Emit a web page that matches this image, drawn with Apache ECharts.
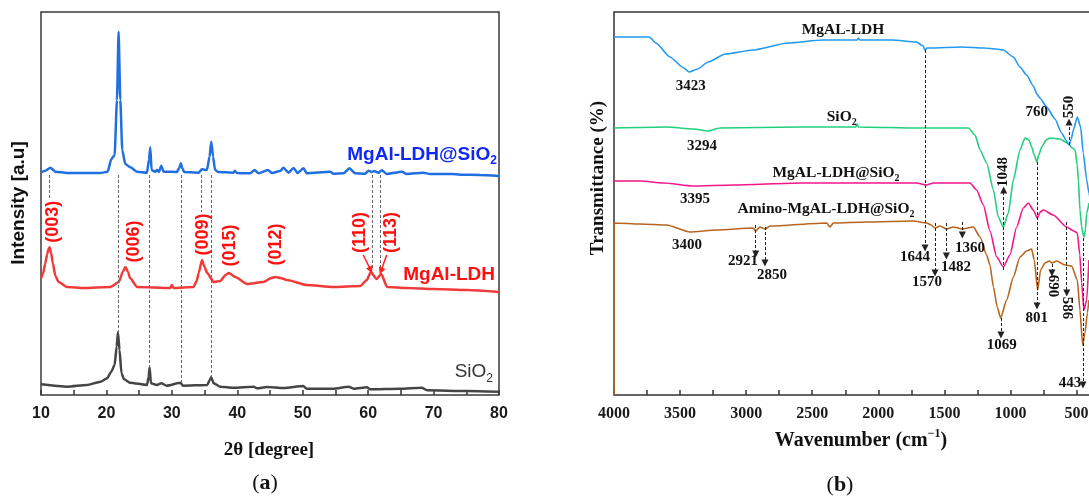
<!DOCTYPE html>
<html><head><meta charset="utf-8">
<script src="https://cdn.jsdelivr.net/npm/echarts@6/dist/echarts.min.js"></script>
<style>html,body{margin:0;padding:0;background:#fff}#c{width:1089px;height:502px}</style>
</head><body><div id="c"></div>
<script>
// ---------------- (a) XRD data : [2theta, intensity (a.u., stacked offsets)] ----------------
const xrdTickStep = 5;
const xrdLDHSiO2 = [[10,222.7],[10.66,224.3],[11.43,227.3],[12.19,223.3],[13.97,222],[19.06,222],[20.18,223.3],[20.74,235.7],[21.25,240],[21.61,295],[21.86,363.3],[22.12,295],[22.42,245],[22.88,231],[23.65,227.7],[24.66,223.3],[26.19,222.3],[26.5,235],[26.7,247.7],[26.9,225],[27.46,223.3],[27.72,225],[28.02,223],[28.38,229.3],[28.74,223.3],[30.77,223],[31.1,226.7],[31.38,231.7],[31.6,226.7],[31.9,223],[34.08,222.3],[34.59,225.7],[35.36,225],[35.76,238.3],[36.02,253.3],[36.3,238.3],[36.6,225],[37.1,223],[39.43,222.3],[39.63,224.3],[39.94,222],[41.98,221.7],[42.64,225],[43.25,221.7],[44.67,225],[45.29,222],[46.56,224],[47.07,227.3],[47.83,222.3],[48.6,227],[49.21,222],[50.12,226.7],[50.63,221.7],[54.2,223.3],[54.7,221.3],[56.23,221.7],[57.15,226.7],[58.01,221.7],[59.54,221.3],[60.05,224.3],[60.56,223],[60.92,224],[61.58,222.3],[62.09,224.7],[62.85,221],[65.14,223.3],[65.91,221],[68.45,222.3],[69.47,221],[72.78,221],[74.05,220.3],[77.1,220],[80,219]];
const xrdLDH = [[10,116.7],[10.3,121],[10.66,131.7],[10.95,141],[11.15,146],[11.32,147.7],[11.55,142],[11.8,132],[12.2,119],[12.7,113],[13.97,108],[16.5,107],[20.6,108],[21.9,113],[22.5,123],[22.9,128],[23.3,123],[23.6,117],[24.7,108],[29.75,107],[30.0,110],[30.3,107],[33.3,108],[33.8,114],[34.1,122],[34.6,135],[35.0,128],[35.4,122],[36.4,113],[37.4,114],[38.2,120],[38.7,122],[39.7,118],[41.5,111],[44.0,113],[45.2,117],[45.8,118],[46.6,117],[47.6,115],[50.6,110],[54.7,108],[58.8,109],[59.8,115],[60.4,123],[61.3,116],[62.0,121],[62.9,108],[65.9,107],[70.0,106],[75.1,105],[80,103]];
const xrdSiO2 = [[10,10.7],[14.0,8.3],[17.0,10],[19.1,13.3],[20.1,16.7],[20.74,23.3],[21.25,30],[21.56,48.3],[21.76,62.7],[22.0,45],[22.3,21.7],[22.7,15.7],[23.6,12.3],[26.2,10],[26.45,18],[26.6,27.7],[26.8,11.7],[27.7,10],[28.4,11.7],[29.2,9.3],[31.3,12.3],[31.7,9.3],[35.4,10],[35.8,15],[36.0,17.7],[36.4,11.7],[37.4,8.3],[39.4,7.3],[42.5,8.3],[43.0,6.7],[44.5,8],[47.1,7],[50.1,9],[50.6,6.3],[54.7,6.3],[57.0,8.3],[57.8,6.3],[59.8,7.7],[60.3,5.7],[64.9,6.3],[68.2,7.3],[69.0,4.7],[75.1,4],[80,3.3]];
const xrdPlaneLabels = [[11.91,173.3,'(003)'],[24.29,153.5,'(006)'],[34.84,160.5,'(009)'],[38.89,149.5,'(015)'],[45.99,150.5,'(012)'],[58.75,162.5,'(110)'],[63.57,162.5,'(113)']];
const xrdNameBlue = [[79.69,240.5,'MgAl-LDH@SiO_2']];
const xrdNameRed = [[79.39,120,'MgAl-LDH']];
const xrdNameGray = [[79.08,23.3,'SiO_2']];
const xrdGuides = [[11.3,220,195],[21.8,220,63],[26.5,220,28],[31.4,220,12],[34.55,220,183],[36.0,220,18],[60.6,220,125],[61.9,220,125]];
const xrdArrows = [[59.26,140,60.39,125],[62.83,140,61.96,124]];

// ---------------- (b) FTIR data : [wavenumber, transmittance (stacked offsets)] ----------------
const ftirLDH = [[4000,358],[3734,358],[3682,352],[3577,338],[3472,327],[3432,323],[3367,326],[3288,333],[3157,341],[2946,345],[2684,352],[2421,355],[2159,355],[2150,357],[2140,355],[1896,355],[1712,353],[1660,349],[1647,345],[1630,347],[1607,347],[1371,348],[1200,347],[1108,346],[1054,345],[978,338],[928,328],[878,320],[827,309],[800,301],[777,297],[726,288],[663,276],[613,262],[580,255],[557,250],[540,256],[524,265],[494,278],[469,268],[449,242],[423,215],[406,202],[390,190]];
const ftirSiO2 = [[4000,267],[3600,268],[3400,266],[3288,264],[3200,267],[2600,268],[2170,268],[2160,271],[2150,268],[1700,267],[1318,267],[1268,260],[1230,245],[1180,232],[1129,205],[1092,178],[1054,168],[1016,182],[978,215],[928,245],[890,257],[860,255],[839,248],[820,240],[801,233],[785,240],[764,248],[730,255],[701,257],[625,256],[570,252],[530,247],[511,245],[495,230],[486,215],[474,185],[461,168],[449,160],[443,158],[433,165],[423,182],[405,192]];
const ftirLDHSiO2 = [[4000,214],[3800,214],[3627,212],[3400,209],[3097,210],[2592,212],[2088,212],[1710,212],[1639,210],[1583,212],[1306,212],[1256,205],[1205,190],[1155,164],[1104,138],[1054,128],[1004,140],[953,168],[903,187],[865,192],[827,185],[797,177],[775,183],[751,185],[676,180],[575,168],[520,164],[494,162],[475,140],[461,112],[444,85],[423,95],[406,135]];
const ftirAmino = [[4000,0],[4000,172],[3800,171],[3601,170],[3425,163],[3223,165],[2946,167],[2928,164],[2895,168],[2857,166],[2819,169],[2391,172],[2366,168],[2340,172],[2088,173],[1735,174],[1634,172],[1600,170],[1571,167],[1533,169],[1483,166],[1432,168],[1364,166],[1281,168],[1230,158],[1180,140],[1155,130],[1129,108],[1100,88],[1074,77],[1029,95],[978,118],[928,138],[878,144],[840,146],[820,135],[794,105],[772,125],[739,132],[706,134],[686,132],[650,134],[587,130],[537,129],[494,115],[474,85],[454,50],[436,62],[418,82],[406,95]];
const ftirTickStep = 250;
const ftirNames = [[2267,365,'MgAL-LDH'],[2277,278,'SiO_2'],[2320,222,'MgAL-LDH@SiO_2'],[2396,186,'Amino-MgAL-LDH@SiO_2']];
const ftirPeaks = [[3420,309,'3423'],[3334,249,'3294'],[3387,196,'3395'],[3448,150,'3400'],[3024,134,'2921'],[2804,120,'2850'],[1722,138,'1644'],[1631,113,'1570'],[1412,128,'1482'],[1306,147,'1360'],[801,283,'760'],[801,77,'801'],[1066,50,'1069'],[549,12,'443']];
const ftirPeaksUp = [[1056,223,'1048'],[557,288,'550']];
const ftirPeaksDown = [[680,109,'690'],[574,87,'586']];
const ftirArrows = [[2928,170,141],[2858,168,132],[1646,345,147],[1571,172,122],[1485,172,139],[1364,173,160],[1051,125,205],[557,250,273],[799,233,89],[1072,77,60],[686,131,122],[574,173,102],[451,157,10]];

// ---------------- rendering ----------------
const SANS = 'Liberation Sans, Arial, sans-serif';
const SERIF = 'Liberation Serif, Times New Roman, serif';
function fmt(t){ return t.replace(/_(\d+)/g,'{s|$1}'); }
function rich(family,size,color,weight){
  const s = Math.round(size*0.62);
  return { s:{fontFamily:family,fontSize:s,fontWeight:weight,color:color,verticalAlign:'bottom',lineHeight:s,textBorderWidth:0,opacity:1} };
}
function labelSeries(ax, list, o){
  const w = o.weight||'bold';
  return {
    type:'scatter', xAxisIndex:ax, yAxisIndex:ax, symbolSize:0, silent:true, z:6,
    itemStyle:{color:'transparent', opacity:1},
    data:list.map(d=>({value:[d[0],d[1]], name:d[2]})),
    label:{show:true, position:o.position||'inside', distance:0, rotate:o.rotate||0, opacity:1,
      formatter:p=>fmt(p.name), fontFamily:o.family, fontSize:o.size, fontWeight:w,
      color:o.color, textBorderWidth:0, textBorderColor:'transparent', textShadowBlur:0,
      lineHeight:Math.round(o.size*1.3), rich:rich(o.family,o.size,o.color,w)},
    emphasis:{disabled:true}
  };
}
function line(ax, data, color, w){
  return {type:'line', xAxisIndex:ax, yAxisIndex:ax, data:data, showSymbol:false, symbol:'none',
    lineStyle:{color:color,width:w}, itemStyle:{color:color}, smooth:0.2, smoothMonotone:'x', z:3, silent:true};
}
const guideSeries = {
  type:'scatter', xAxisIndex:0, yAxisIndex:0, data:[], silent:true,
  markLine:{silent:true, animation:false, symbol:['none','none'], label:{show:false},
    lineStyle:{color:'#666',type:[3,2],width:1, opacity:1},
    data:xrdGuides.map(g=>[{coord:[g[0],g[1]]},{coord:[g[0],g[2]]}])}
};
const redArrowSeries = {
  type:'scatter', xAxisIndex:0, yAxisIndex:0, data:[], silent:true,
  markLine:{silent:true, animation:false, symbol:['none','triangle'], symbolSize:7, label:{show:false},
    lineStyle:{color:'#ff1f1f',type:'solid',width:1.5, opacity:1},
    data:xrdArrows.map(g=>[{coord:[g[0],g[1]]},{coord:[g[2],g[3]]}])}
};
const ftirArrowSeries = {
  type:'scatter', xAxisIndex:1, yAxisIndex:1, data:[], silent:true,
  markLine:{silent:true, animation:false, symbol:['none','triangle'], symbolSize:7, label:{show:false},
    lineStyle:{color:'#222',type:[3,2],width:1, opacity:1},
    data:ftirArrows.map(g=>[{coord:[g[0],g[1]]},{coord:[g[0],g[2]]}])}
};

const option = {
  animation:false,
  backgroundColor:'#fff',
  grid:[
    {left:41, top:12, width:458, height:383, show:true, borderColor:'#3a3a3a', borderWidth:1.5, containLabel:false, outerBoundsMode:'none'},
    {left:614, top:12, width:528.6, height:383, show:true, borderColor:'#333', borderWidth:1.5, containLabel:false, outerBoundsMode:'none'}
  ],
  xAxis:[
    {type:'value', gridIndex:0, min:10, max:80, interval:xrdTickStep, axisLine:{show:false},
      axisTick:{show:true, inside:true, length:5, lineStyle:{color:'#333',width:1.5}},
      splitLine:{show:false},
      axisLabel:{margin:11, fontFamily:SANS, fontWeight:'bold', fontSize:16, color:'#1a1a1a',
        formatter:v=> (v%10===0 ? String(v) : '')}},
    {type:'value', gridIndex:1, min:0, max:4000, inverse:true, interval:ftirTickStep, axisLine:{show:false},
      axisTick:{show:true, inside:true, length:5, lineStyle:{color:'#333',width:1.5}},
      splitLine:{show:false},
      axisLabel:{margin:11, fontFamily:SERIF, fontWeight:'bold', fontSize:16, color:'#1a1a1a',
        formatter:v=> (v%500===0 && v>0 ? String(v) : '')}}
  ],
  yAxis:[
    {type:'value', gridIndex:0, min:0, max:383, show:false},
    {type:'value', gridIndex:1, min:0, max:383, show:false}
  ],
  series:[
    guideSeries,
    line(0, xrdSiO2, '#454545', 2.5),
    line(0, xrdLDH, '#f03a3a', 2.5),
    line(0, xrdLDHSiO2, '#1f6fe0', 2.5),
    redArrowSeries,
    labelSeries(0, xrdPlaneLabels, {family:SANS,size:18,color:'#ff0f0f',rotate:90}),
    labelSeries(0, xrdNameBlue, {family:SANS,size:19,color:'#1028f5',position:'left'}),
    labelSeries(0, xrdNameRed, {family:SANS,size:19,color:'#ff0f0f',position:'left'}),
    labelSeries(0, xrdNameGray, {family:SANS,size:19,color:'#333',weight:'normal',position:'left'}),
    ftirArrowSeries,
    line(1, ftirAmino, '#b8661f', 1.6),
    line(1, ftirLDHSiO2, '#f5168c', 1.6),
    line(1, ftirSiO2, '#22cf7c', 1.6),
    line(1, ftirLDH, '#2299ee', 1.6),
    labelSeries(1, ftirNames, {family:SERIF,size:15.5,color:'#111'}),
    labelSeries(1, ftirPeaks, {family:SERIF,size:15,color:'#111'}),
    labelSeries(1, ftirPeaksUp, {family:SERIF,size:15,color:'#111',rotate:90}),
    labelSeries(1, ftirPeaksDown, {family:SERIF,size:15,color:'#111',rotate:-90})
  ],
  graphic:[
    {type:'text', x:19, y:203, rotation:Math.PI/2, silent:true,
      style:{text:'Intensity [a.u]', font:'bold 19px '+SANS, fill:'#111', align:'center', verticalAlign:'middle', textAlign:'center', textVerticalAlign:'middle'}},
    {type:'text', x:269, y:450, silent:true,
      style:{text:'2θ [degree]', font:'bold 19px '+SERIF, fill:'#111', align:'center', verticalAlign:'middle', textAlign:'center', textVerticalAlign:'middle'}},
    {type:'text', x:598, y:178, rotation:Math.PI/2, silent:true,
      style:{text:'Transmittance (%)', font:'bold 19px '+SERIF, fill:'#111', align:'center', verticalAlign:'middle', textAlign:'center', textVerticalAlign:'middle'}},
    {type:'text', x:861, y:441, silent:true,
      style:{text:'Wavenumber (cm{p|−1})', font:'bold 20px '+SERIF, fill:'#111', align:'center', verticalAlign:'middle', textAlign:'center', textVerticalAlign:'middle', lineHeight:26,
        rich:{p:{fontFamily:SERIF,fontWeight:'bold',fontSize:12,verticalAlign:'top',lineHeight:12,fill:'#111'}}}},
    {type:'text', x:265, y:483, silent:true,
      style:{text:'({a|a})', font:'22px '+SERIF, fill:'#111', align:'center', verticalAlign:'middle', textAlign:'center', textVerticalAlign:'middle',
        rich:{a:{fontFamily:SERIF,fontWeight:'bold',fontSize:22,fill:'#111'}}}},
    {type:'text', x:840, y:485, silent:true,
      style:{text:'({a|b})', font:'22px '+SERIF, fill:'#111', align:'center', verticalAlign:'middle', textAlign:'center', textVerticalAlign:'middle',
        rich:{a:{fontFamily:SERIF,fontWeight:'bold',fontSize:22,fill:'#111'}}}}
  ]
};
const chart = echarts.init(document.getElementById('c'));
chart.setOption(option);
</script></body></html>
